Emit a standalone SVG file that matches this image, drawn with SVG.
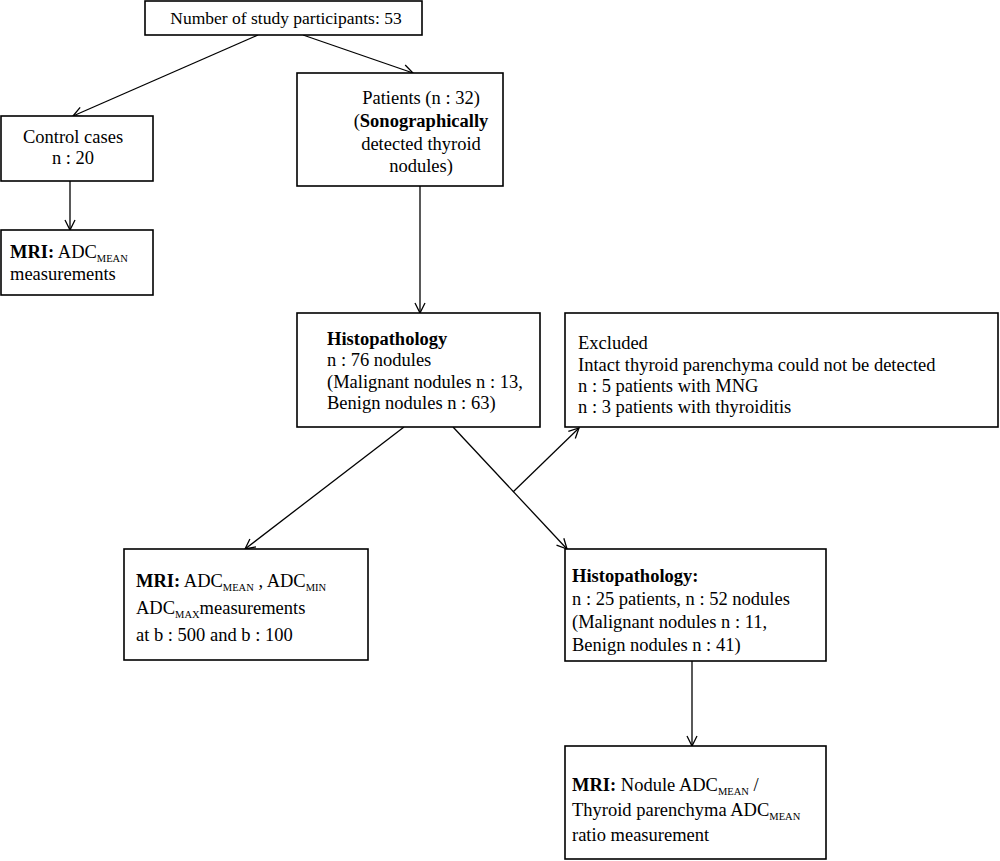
<svg xmlns="http://www.w3.org/2000/svg" width="1000" height="861" viewBox="0 0 1000 861">
<defs>
<marker id="arr" viewBox="0 0 12 12" refX="11" refY="6" markerWidth="12" markerHeight="12" markerUnits="userSpaceOnUse" orient="auto">
<path d="M1,1 L11,6 L1,11" fill="none" stroke="#000" stroke-width="1.3"/>
</marker>
</defs>
<style>
rect{fill:#fff;stroke:#000;stroke-width:1.6}
text{font-family:"Liberation Serif","DejaVu Serif",serif;font-size:18.5px;fill:#000}
.b{font-weight:bold}
.s{font-size:10.5px}
.c{text-anchor:middle}
.t{font-size:17.5px}
line{stroke:#000;stroke-width:1.3;fill:none}
</style>
<rect width="1000" height="861" style="fill:#fff;stroke:none"/>
<g id="connectors">
<line x1="258" y1="35" x2="73" y2="116" marker-end="url(#arr)"/>
<line x1="303" y1="35" x2="413" y2="73" marker-end="url(#arr)"/>
<line x1="70" y1="181" x2="70" y2="230" marker-end="url(#arr)"/>
<line x1="420" y1="186" x2="420" y2="313" marker-end="url(#arr)"/>
<line x1="404" y1="427" x2="245" y2="549" marker-end="url(#arr)"/>
<line x1="453" y1="427" x2="567" y2="549" marker-end="url(#arr)"/>
<line x1="513" y1="492" x2="579" y2="428" marker-end="url(#arr)"/>
<line x1="692" y1="661" x2="692" y2="746" marker-end="url(#arr)"/>
</g>
<g id="n-total">
<rect x="145" y="1" width="277" height="34"/>
<text x="286" y="24" class="c t">Number of study participants: 53</text>
</g>
<g id="n-control">
<rect x="1" y="116" width="152" height="65"/>
<text x="73" y="143" class="c">Control cases</text>
<text x="73" y="164" class="c">n : 20</text>
</g>
<g id="n-mri1">
<rect x="1" y="230" width="152" height="65"/>
<text x="10" y="258"><tspan class="b">MRI:</tspan> ADC<tspan class="s" dy="4">MEAN</tspan></text>
<text x="10" y="280">measurements</text>
</g>
<g id="n-patients">
<rect x="297" y="73" width="206" height="113"/>
<text x="421" y="104" class="c">Patients (n : 32)</text>
<text x="421" y="127" class="c">(<tspan class="b">Sonographically</tspan></text>
<text x="421" y="150" class="c">detected thyroid</text>
<text x="421" y="172" class="c">nodules)</text>
</g>
<g id="n-histo1">
<rect x="297" y="313" width="243" height="114"/>
<text x="327" y="345" class="b">Histopathology</text>
<text x="327" y="366">n : 76 nodules</text>
<text x="327" y="388">(Malignant nodules n : 13,</text>
<text x="327" y="409">Benign nodules n : 63)</text>
</g>
<g id="n-excluded">
<rect x="565" y="313" width="433" height="114"/>
<text x="578" y="349">Excluded</text>
<text x="578" y="371">Intact thyroid parenchyma could not be detected</text>
<text x="578" y="392">n : 5 patients with MNG</text>
<text x="578" y="413">n : 3 patients with thyroiditis</text>
</g>
<g id="n-mri2">
<rect x="124" y="549" width="244" height="111"/>
<text x="136" y="587"><tspan class="b">MRI:</tspan> ADC<tspan class="s" dy="4">MEAN</tspan><tspan dy="-4"> , ADC</tspan><tspan class="s" dy="4">MIN</tspan></text>
<text x="136" y="614">ADC<tspan class="s" dy="4">MAX</tspan><tspan dy="-4">measurements</tspan></text>
<text x="136" y="641">at b : 500 and b : 100</text>
</g>
<g id="n-histo2">
<rect x="565" y="549" width="261" height="112"/>
<text x="572" y="582" class="b">Histopathology:</text>
<text x="572" y="605">n : 25 patients, n : 52 nodules</text>
<text x="572" y="628">(Malignant nodules n : 11,</text>
<text x="572" y="651">Benign nodules n : 41)</text>
</g>
<g id="n-mri3">
<rect x="565" y="746" width="261" height="113"/>
<text x="572" y="791"><tspan class="b">MRI:</tspan> Nodule ADC<tspan class="s" dy="4">MEAN</tspan><tspan dy="-4"> /</tspan></text>
<text x="572" y="816">Thyroid parenchyma ADC<tspan class="s" dy="4">MEAN</tspan></text>
<text x="572" y="841">ratio measurement</text>
</g>
</svg>
